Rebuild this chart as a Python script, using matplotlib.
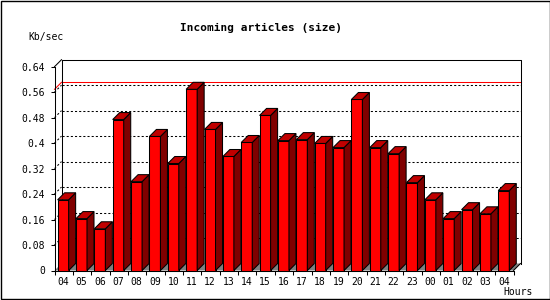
import matplotlib
matplotlib.use('Agg')
import matplotlib.pyplot as plt
from matplotlib.patches import Polygon, Rectangle
from matplotlib.ticker import FixedLocator, FixedFormatter

# ---- data ----
hours = ['04', '05', '06', '07', '08', '09', '10', '11', '12', '13', '14', '15',
         '16', '17', '18', '19', '20', '21', '22', '23', '00', '01', '02', '03', '04']
values = [0.222, 0.163, 0.131, 0.474, 0.279, 0.421, 0.336, 0.569, 0.443, 0.358,
          0.402, 0.487, 0.408, 0.411, 0.399, 0.386, 0.537, 0.386, 0.367, 0.276,
          0.222, 0.163, 0.191, 0.178, 0.251]
yticks = [0, 0.08, 0.16, 0.24, 0.32, 0.40, 0.48, 0.56, 0.64]
ytick_labels = ['0', '0.08', '0.16', '0.24', '0.32', '0.4', '0.48', '0.56', '0.64']
title = 'Incoming articles (size)'
ylabel = 'Kb/sec'
xlabel = 'Hours'

plt.rcParams['lines.scale_dashes'] = False
W, H = 550, 300
fig = plt.figure(figsize=(W / 100, H / 100), dpi=100)
fig.patch.set_facecolor('white')

L, R, B, T = 54.5, 513.5, 270.5, 66.7
ax = fig.add_axes([L / W, 1 - B / H, (R - L) / W, (B - T) / H])
n = len(values)
ymax = yticks[-1]
ax.set_xlim(0, n)
ax.set_ylim(0, ymax)
ax.patch.set_visible(False)
sx = (R - L) / n
sy = (B - T) / ymax
DX = 7 / sx
DY = 7 / sy

lw = 0.75
# back plane
ax.add_patch(Rectangle((DX, DY), n, ymax, facecolor='white', edgecolor='none', zorder=0, clip_on=False))
for v in yticks[1:-1]:
    ax.plot([DX, n + DX], [v + DY, v + DY], color='black', lw=lw, dashes=(1.5, 1.5), zorder=1, clip_on=False)
    ax.plot([0, DX], [v, v + DY], color='black', lw=lw, dashes=(1.5, 1.5), zorder=1, clip_on=False)
# max line
m = max(values)
ax.plot([DX, n + DX], [m + DY, m + DY], color='red', lw=lw, zorder=1.5, clip_on=False)
ax.plot([0, DX], [m, m + DY], color='red', lw=lw, zorder=1.5, clip_on=False)
# back plane outline
ax.plot([DX, DX, n + DX, n + DX], [DY, ymax + DY, ymax + DY, DY], color='black', lw=lw, zorder=2, clip_on=False)
ax.plot([0, DX], [ymax, ymax + DY], color='black', lw=lw, zorder=2, clip_on=False)
# floor
ax.add_patch(Polygon([(0, 0), (n, 0), (n + DX, DY), (DX, DY)], closed=True,
                     facecolor='#808080', edgecolor='none', zorder=2, clip_on=False))
ax.plot([n, n + DX], [0, DY], color='black', lw=lw, zorder=2, clip_on=False)

# bars
off, bw = 0.17, 0.6
for i, v in enumerate(values):
    x0 = i + off
    ax.add_patch(Rectangle((x0, 0), bw, v, facecolor='#ff0000', edgecolor='black', lw=lw, zorder=3, clip_on=False))
    ax.add_patch(Polygon([(x0 + bw, 0), (x0 + bw + DX, DY), (x0 + bw + DX, v + DY), (x0 + bw, v)],
                         closed=True, facecolor='#800000', edgecolor='black', lw=lw, zorder=3, clip_on=False))
    ax.add_patch(Polygon([(x0, v), (x0 + DX, v + DY), (x0 + bw + DX, v + DY), (x0 + bw, v)],
                         closed=True, facecolor='#c00000', edgecolor='black', lw=lw, zorder=3, clip_on=False))

# axes
for s in ['top', 'right']:
    ax.spines[s].set_visible(False)
for s in ['left', 'bottom']:
    ax.spines[s].set_linewidth(lw)
    ax.spines[s].set_zorder(4)

font = 'DejaVu Sans Mono'
ax.xaxis.set_major_locator(FixedLocator([i + off + bw / 2 for i in range(n)]))
ax.xaxis.set_major_formatter(FixedFormatter(hours))
ax.xaxis.set_minor_locator(FixedLocator(list(range(n + 1))))
ax.tick_params(axis='x', which='major', length=0, pad=5, labelsize=7)
ax.tick_params(axis='x', which='minor', length=3, width=lw, direction='out')
ax.yaxis.set_major_locator(FixedLocator(yticks))
ax.yaxis.set_major_formatter(FixedFormatter(ytick_labels))
ax.tick_params(axis='y', which='major', length=3, width=lw, pad=4, labelsize=7)
for lab in ax.get_xticklabels() + ax.get_yticklabels():
    lab.set_fontfamily(font)

fig.text(261 / W, 1 - 27.5 / H, title, ha='center', va='center', fontsize=8, fontweight='bold', family=font)
fig.text(28 / W, 1 - 37 / H, ylabel, ha='left', va='center', fontsize=7, family=font)
fig.text(518 / W, 1 - 292 / H, xlabel, ha='center', va='center', fontsize=7, family=font)

fig.add_artist(Rectangle((0.5 / W, 1 - 298.5 / H), 549 / W, 298 / H, transform=fig.transFigure,
                         facecolor='none', edgecolor='black', lw=1.0))

fig.savefig('out.png', dpi=100)
